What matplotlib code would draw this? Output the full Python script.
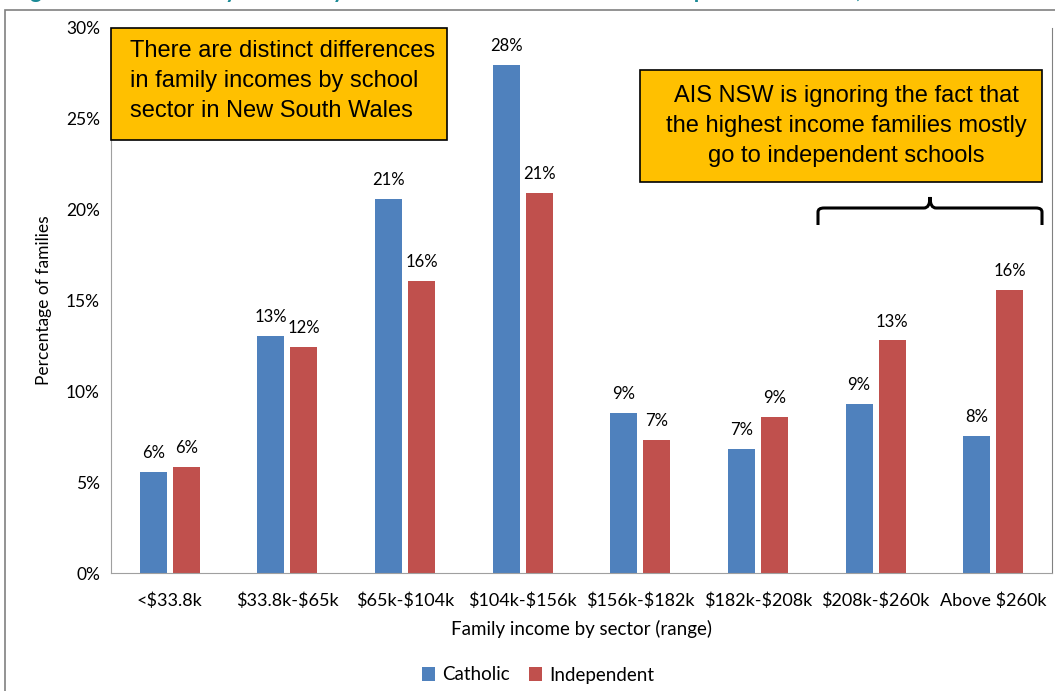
import matplotlib
matplotlib.use("Agg")
import matplotlib.pyplot as plt
import numpy as np
from matplotlib.patches import Rectangle, PathPatch
from matplotlib.path import Path

plt.rcParams["font.family"] = ["Lato", "DejaVu Sans"]
plt.rcParams["text.parse_math"] = False

categories = ["<$33.8k", "$33.8k-$65k", "$65k-$104k", "$104k-$156k",
              "$156k-$182k", "$182k-$208k", "$208k-$260k", "Above $260k"]
catholic = [5.56, 13.05, 20.6, 27.97, 8.8, 6.83, 9.3, 7.55]
independent = [5.84, 12.45, 16.1, 20.9, 7.3, 8.6, 12.8, 15.6]

W, H = 1055, 691
fig = plt.figure(figsize=(W / 100, H / 100), dpi=100)
fig.patch.set_facecolor("white")


def fx(px):
    return px / W


def fy(py):
    return 1 - py / H


ax = fig.add_axes([fx(111), fy(573), fx(1052) - fx(111), fy(28) - fy(573)])

x = np.arange(len(categories))
bw = 0.23
off = 0.14
b1 = ax.bar(x - off, catholic, bw, color="#4F81BD", label="Catholic")
b2 = ax.bar(x + off, independent, bw, color="#C0504D", label="Independent")

for bars, vals in ((b1, catholic), (b2, independent)):
    for rect, v in zip(bars, vals):
        ax.text(rect.get_x() + rect.get_width() / 2, v + 0.6, f"{round(v):.0f}%",
                ha="center", va="bottom", fontsize=12)

ax.set_xlim(-0.5, len(categories) - 0.5)
ax.set_ylim(0, 30)
ax.set_yticks(np.arange(0, 31, 5))
ax.set_yticklabels([f"{t}%" for t in range(0, 31, 5)], fontsize=12.5)
ax.set_xticks(x)
ax.set_xticklabels(categories, fontsize=13)
ax.tick_params(axis="both", length=0, pad=8)
ax.tick_params(axis="x", pad=14)
ax.spines["top"].set_visible(False)
ax.spines["right"].set_color("#808080")
ax.spines["left"].set_color("#a0a0a0")
ax.spines["bottom"].set_color("#a0a0a0")
ax.set_ylabel("Percentage of families", fontsize=12.5, labelpad=10)
ax.set_xlabel("Family income by sector (range)", fontsize=13.5, labelpad=8)

fig.legend(handles=[b1, b2], loc="center", bbox_to_anchor=(0.51, fy(675)),
           ncol=2, frameon=False, fontsize=13.5, handlelength=0.7,
           handleheight=0.7, handletextpad=0.4, columnspacing=1.0)

# outer chart border
fig.add_artist(Rectangle((fx(5), fy(700)), fx(1060) - fx(5), fy(10) - fy(700),
                         transform=fig.transFigure, fill=False,
                         edgecolor="#808080", lw=1.2))

# cut off title at the top
fig.text(fx(12), fy(-2), "Figure 5: Parent family income by school sector for Catholic and Independent schools, New South Wales",
         color="#1B8A96", fontsize=16, fontweight="bold", va="baseline", ha="left")

# callout boxes
box_font = ["Liberation Sans", "DejaVu Sans"]
fig.add_artist(Rectangle((fx(111), fy(140)), fx(447) - fx(111), fy(28) - fy(140),
                         transform=fig.transFigure, facecolor="#FFC000",
                         edgecolor="black", lw=1.2))
fig.text(fx(130), fy(81), "There are distinct differences\nin family incomes by school\nsector in New South Wales",
         fontsize=17, family=box_font, ha="left", va="center", linespacing=1.45)

fig.add_artist(Rectangle((fx(640), fy(182)), fx(1042) - fx(640), fy(70) - fy(182),
                         transform=fig.transFigure, facecolor="#FFC000",
                         edgecolor="black", lw=1.2))
fig.text(fx(846), fy(126), "AIS NSW is ignoring the fact that\nthe highest income families mostly\ngo to independent schools",
         fontsize=17, family=box_font, ha="center", va="center", linespacing=1.45)

# brace
pts = [(818, 225), (818, 212), (818, 208), (824, 208),
       (924, 208), (930, 208), (930, 197),
       (930, 208), (936, 208), (1036, 208),
       (1042, 208), (1042, 212), (1042, 225)]
codes = [Path.MOVETO, Path.LINETO, Path.CURVE3, Path.CURVE3,
         Path.LINETO, Path.CURVE3, Path.CURVE3,
         Path.CURVE3, Path.CURVE3, Path.LINETO,
         Path.CURVE3, Path.CURVE3, Path.LINETO]
brace = Path([(fx(a), fy(b)) for a, b in pts], codes)
fig.add_artist(PathPatch(brace, transform=fig.transFigure, fill=False,
                         edgecolor="black", lw=2.2))

fig.savefig("out.png", dpi=100)
